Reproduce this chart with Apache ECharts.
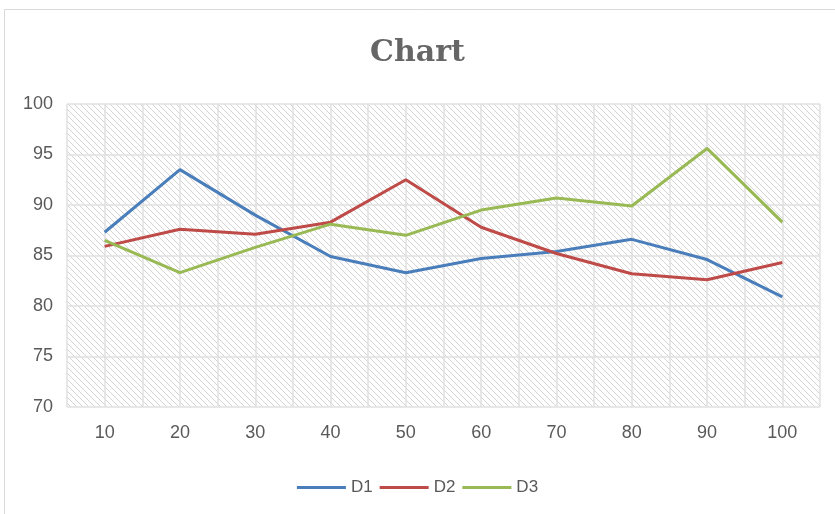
<!DOCTYPE html>
<html>
<head>
<meta charset="utf-8">
<script src="https://cdn.jsdelivr.net/npm/echarts@6/dist/echarts.min.js"></script>
<style>
  html, body { margin: 0; padding: 0; background: #fff; }
  #chart { width: 835px; height: 514px; }
</style>
</head>
<body>
<div id="chart"></div>
<script>
  // data
  var categories = ['10', '20', '30', '40', '50', '60', '70', '80', '90', '100'];
  var d1 = [87.3, 93.5, 89.0, 84.9, 83.3, 84.7, 85.4, 86.6, 84.6, 80.9];
  var d2 = [85.9, 87.6, 87.1, 88.3, 92.5, 87.8, 85.2, 83.2, 82.6, 84.3];
  var d3 = [86.5, 83.3, 85.8, 88.1, 87.0, 89.5, 90.7, 89.9, 95.6, 88.3];

  // diagonal hatch for the plot area
  var hatch = document.createElement('canvas');
  hatch.width = 6;
  hatch.height = 6;
  var ctx = hatch.getContext('2d');
  ctx.fillStyle = '#ffffff';
  ctx.fillRect(0, 0, 6, 6);
  ctx.strokeStyle = '#d4d4d4';
  ctx.lineWidth = 1;
  ctx.beginPath();
  ctx.moveTo(-1, -1); ctx.lineTo(7, 7);
  ctx.moveTo(-1, 5); ctx.lineTo(1, 7);
  ctx.moveTo(5, -1); ctx.lineTo(7, 1);
  ctx.stroke();

  var labelColor = '#595959';
  var gridColor = '#e0e0e0';

  var myChart = echarts.init(document.getElementById('chart'));
  var option = {
    backgroundColor: '#ffffff',
    animation: false,
    graphic: [{
      type: 'rect',
      shape: { x: 4.5, y: 9.5, width: 900, height: 600 },
      style: { fill: 'none', stroke: '#d9d9d9', lineWidth: 1 },
      silent: true
    }],
    title: {
      text: 'Chart',
      left: 'center',
      top: 33,
      textStyle: {
        fontFamily: "'DejaVu Serif'",
        fontWeight: 'bold',
        fontSize: 30,
        color: '#666666'
      }
    },
    legend: {
      data: ['D1', 'D2', 'D3'],
      left: 'center',
      top: 474,
      icon: 'rect',
      itemWidth: 49,
      itemHeight: 3,
      itemGap: 7,
      textStyle: { fontFamily: "'Liberation Sans'", fontSize: 17, color: labelColor }
    },
    grid: {
      show: true,
      left: 67,
      right: 15,
      top: 104,
      bottom: 107,
      borderWidth: 0,
      backgroundColor: { image: hatch, repeat: 'repeat' }
    },
    xAxis: [{
      type: 'category',
      data: categories,
      boundaryGap: true,
      axisLine: { show: false },
      axisTick: { show: false },
      splitLine: { show: false },
      axisLabel: { color: labelColor, fontFamily: "'Liberation Sans'", fontSize: 18, margin: 17 }
    }, {
      // only used for the half-category vertical grid lines
      type: 'value',
      min: 0,
      max: 20,
      interval: 1,
      position: 'bottom',
      axisLine: { show: false },
      axisTick: { show: false },
      axisLabel: { show: false },
      splitLine: { show: true, lineStyle: { color: gridColor, width: 1.5 } }
    }],
    yAxis: {
      type: 'value',
      min: 70,
      max: 100,
      interval: 5,
      axisLine: { show: false },
      axisTick: { show: false },
      axisLabel: { color: labelColor, fontFamily: "'Liberation Sans'", fontSize: 18, margin: 14 },
      splitLine: { show: true, lineStyle: { color: gridColor, width: 1.5 } }
    },
    series: [{
      name: 'D1',
      type: 'line',
      data: d1,
      showSymbol: false,
      color: '#4a7ebb',
      lineStyle: { width: 3, color: '#4a7ebb' }
    }, {
      name: 'D2',
      type: 'line',
      data: d2,
      showSymbol: false,
      color: '#be4b48',
      lineStyle: { width: 3, color: '#be4b48' }
    }, {
      name: 'D3',
      type: 'line',
      data: d3,
      showSymbol: false,
      color: '#98b954',
      lineStyle: { width: 3, color: '#98b954' }
    }]
  };
  myChart.setOption(option);
</script>
</body>
</html>
